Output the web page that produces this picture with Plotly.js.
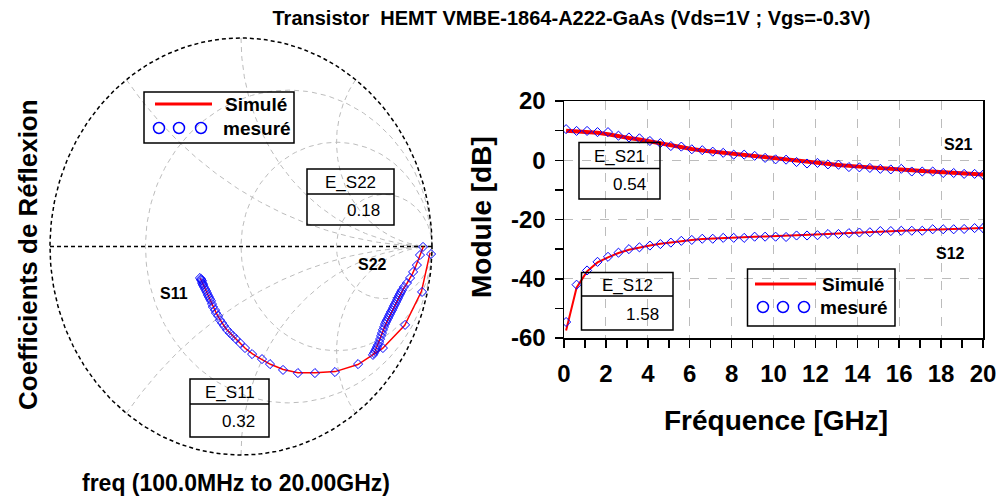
<!DOCTYPE html>
<html><head><meta charset="utf-8">
<script src="https://cdn.plot.ly/plotly-3.0.1.min.js"></script>
<style>html,body{margin:0;padding:0;background:#fff;}#chart{width:1005px;height:499px;}</style>
</head><body><div id="chart"></div>
<script>
// ---------- DATA ----------
const freqGHz = [0.1,0.6,1.1,1.6,2.1,2.6,3.1,3.6,4.1,4.6,5.1,5.6,6.1,6.6,7.1,7.6,8.1,8.6,9.1,9.6,10.1,10.6,11.1,11.6,12.1,12.6,13.1,13.6,14.1,14.6,15.1,15.6,16.1,16.6,17.1,17.6,18.1,18.6,19.1,19.6,20.0];
const s21Mesure = [10.5,9.9,9.9,9.5,9.5,8.3,7.7,7.4,6.5,5.8,4.8,4.6,3.7,3.4,2.9,2.5,1.9,1.9,1.5,0.8,0.3,0.2,-0.6,-1.1,-0.9,-1.4,-1.5,-2.3,-2.4,-2.6,-2.9,-3.1,-2.9,-3.8,-3.8,-3.8,-4.3,-4.3,-4.6,-4.6,-4.9];
const s21Simule = [10.0,9.8,9.6,9.3,8.8,8.0,7.5,7.0,6.3,5.6,5.0,4.4,3.8,3.3,2.9,2.5,2.1,1.7,1.3,0.9,0.5,0.1,-0.3,-0.7,-1.0,-1.3,-1.6,-1.9,-2.2,-2.4,-2.7,-2.9,-3.1,-3.4,-3.6,-3.8,-4.0,-4.2,-4.4,-4.6,-4.8];
const s12Mesure = [-54.6,-42.0,-37.2,-34.3,-32.6,-31.2,-30.0,-29.4,-28.8,-28.3,-27.8,-27.2,-26.9,-26.5,-26.5,-26.2,-26.2,-26.2,-25.8,-25.8,-25.8,-25.9,-25.4,-25.4,-25.3,-24.9,-24.9,-24.6,-24.4,-24.3,-23.9,-23.9,-23.8,-23.8,-23.8,-23.3,-23.3,-23.3,-23.2,-22.9,-22.9];
const s12Simule = [-57.5,-43.0,-37.5,-34.5,-32.8,-31.3,-30.2,-29.4,-28.8,-28.2,-27.7,-27.3,-26.9,-26.6,-26.4,-26.2,-26.1,-25.9,-25.8,-25.7,-25.6,-25.5,-25.3,-25.2,-25.0,-24.9,-24.7,-24.6,-24.4,-24.3,-24.1,-24.0,-23.8,-23.7,-23.6,-23.5,-23.3,-23.2,-23.1,-23.0,-22.9];

// Smith chart: reflection coefficients (real, imaginary)
const s11MesRe = [0.995,0.948,0.859,0.743,0.613,0.492,0.387,0.298,0.220,0.152,0.110,0.058,0.021,-0.005,-0.026,-0.042,-0.058,-0.073,-0.089,-0.099,-0.110,-0.120,-0.131,-0.136,-0.147,-0.152,-0.157,-0.162,-0.168,-0.173,-0.178,-0.183,-0.188,-0.194,-0.199,-0.199,-0.204,-0.204,-0.209,-0.209,-0.215];
const s11MesIm = [-0.036,-0.218,-0.376,-0.487,-0.564,-0.602,-0.607,-0.607,-0.592,-0.564,-0.540,-0.516,-0.487,-0.463,-0.444,-0.429,-0.415,-0.400,-0.381,-0.367,-0.353,-0.333,-0.319,-0.305,-0.290,-0.276,-0.261,-0.252,-0.242,-0.233,-0.223,-0.213,-0.204,-0.194,-0.185,-0.180,-0.175,-0.165,-0.161,-0.156,-0.151];
const s11SimRe = [0.990,0.945,0.857,0.741,0.612,0.493,0.388,0.298,0.221,0.154,0.108,0.060,0.022,-0.004,-0.025,-0.043,-0.058,-0.074,-0.088,-0.100,-0.110,-0.121,-0.130,-0.137,-0.146,-0.152,-0.158,-0.163,-0.168,-0.173,-0.178,-0.183,-0.188,-0.193,-0.197,-0.200,-0.203,-0.205,-0.208,-0.210,-0.213];
const s11SimIm = [-0.030,-0.215,-0.378,-0.489,-0.566,-0.600,-0.606,-0.605,-0.590,-0.565,-0.541,-0.515,-0.488,-0.464,-0.445,-0.430,-0.414,-0.399,-0.382,-0.366,-0.352,-0.334,-0.318,-0.304,-0.289,-0.276,-0.262,-0.252,-0.242,-0.232,-0.222,-0.213,-0.203,-0.194,-0.186,-0.180,-0.174,-0.167,-0.161,-0.156,-0.152];
const s22MesRe = [0.953,0.937,0.921,0.901,0.885,0.869,0.853,0.843,0.838,0.832,0.827,0.822,0.817,0.812,0.806,0.801,0.796,0.791,0.785,0.780,0.775,0.770,0.764,0.759,0.754,0.749,0.743,0.738,0.733,0.728,0.723,0.717,0.712,0.707,0.702,0.696,0.691];
const s22MesIm = [-0.002,-0.041,-0.089,-0.122,-0.151,-0.175,-0.194,-0.209,-0.218,-0.228,-0.237,-0.247,-0.256,-0.266,-0.276,-0.285,-0.295,-0.305,-0.314,-0.324,-0.333,-0.343,-0.353,-0.362,-0.372,-0.386,-0.400,-0.415,-0.429,-0.444,-0.458,-0.472,-0.482,-0.492,-0.501,-0.511,-0.520];
const s22SimRe = [0.955,0.935,0.915,0.898,0.882,0.866,0.850,0.835,0.822,0.810,0.797,0.784,0.771,0.759,0.748,0.737,0.726,0.715,0.703,0.692];
const s22SimIm = [0.000,-0.050,-0.095,-0.130,-0.158,-0.182,-0.204,-0.228,-0.252,-0.275,-0.300,-0.323,-0.346,-0.370,-0.395,-0.422,-0.449,-0.476,-0.500,-0.520];

const xTickStep = 2;
const yTickVals = [-60,-40,-20,0,20];
const yTickText = ['-60','-40','-20','0','20'];
const resistanceGrid = [1/3, 1, 3];
const reactanceGrid = [0.5, 1, 2];
const errorLabels = ['E_S22','E_S11','E_S21','E_S12'];
const errorValues = ['0.18','0.32','0.54','1.58'];
const curveLabels = ['S11','S22','S21','S12'];

// ---------- LAYOUT GEOMETRY ----------
const W = 1005, H = 499;
const PX = v => v / W, PY = v => 1 - v / H;
const FONT = 'Liberation Sans, Arial, sans-serif';
const smith = {cx: 241, rx: 191, cy: 246.5, ry: 208.5, pad: 1.1};
const RED = '#ff0000', BLUE = '#0000ff', GRID = '#bcbcbc';

// Smith grid (computed geometry of the chart background)
function rCircle(r) {
  const c = r / (1 + r), R = 1 / (1 + r), xs = [], ys = [];
  for (let i = 0; i <= 240; i++) { const t = i / 240 * 2 * Math.PI; xs.push(c + R * Math.cos(t)); ys.push(R * Math.sin(t)); }
  return [xs, ys];
}
function xArc(x) {
  const xs = [], ys = [];
  for (let i = 0; i <= 200; i++) {
    const r = Math.tan(i / 200 * 0.997 * Math.PI / 2);
    const d = (r + 1) * (r + 1) + x * x;
    xs.push((r * r + x * x - 1) / d); ys.push(2 * x / d);
  }
  return [xs, ys];
}
const traces = [];
const gridLine = {color: GRID, width: 1, dash: '5px,4px'};
resistanceGrid.forEach(r => { const [a, b] = rCircle(r); traces.push({x: a, y: b, xaxis: 'x', yaxis: 'y', mode: 'lines', line: gridLine, hoverinfo: 'skip'}); });
reactanceGrid.forEach(x => {
  [x, -x].forEach(v => { const [a, b] = xArc(v); traces.push({x: a, y: b, xaxis: 'x', yaxis: 'y', mode: 'lines', line: gridLine, hoverinfo: 'skip'}); });
});
{ const [a, b] = rCircle(0); traces.push({x: a, y: b, xaxis: 'x', yaxis: 'y', mode: 'lines', line: {color: '#000', width: 1.5, dash: '4px,3px'}, hoverinfo: 'skip'}); }
traces.push({x: [-1, 1], y: [0, 0], xaxis: 'x', yaxis: 'y', mode: 'lines', line: {color: '#000', width: 1.5, dash: '4px,3px'}, hoverinfo: 'skip'});

const mk = {symbol: 'diamond-open', size: 7, color: BLUE, line: {width: 1, color: BLUE}};
// Smith data
traces.push({x: s11SimRe, y: s11SimIm, xaxis: 'x', yaxis: 'y', mode: 'lines', line: {color: RED, width: 1.5}, name: 'Simulé'});
traces.push({x: s22SimRe, y: s22SimIm, xaxis: 'x', yaxis: 'y', mode: 'lines', line: {color: RED, width: 1.5}, name: 'Simulé'});
traces.push({x: s11MesRe, y: s11MesIm, xaxis: 'x', yaxis: 'y', mode: 'markers', marker: mk, name: 'mesuré'});
traces.push({x: s22MesRe, y: s22MesIm, xaxis: 'x', yaxis: 'y', mode: 'markers', marker: mk, name: 'mesuré'});
// Module data
traces.push({x: freqGHz, y: s21Simule, xaxis: 'x2', yaxis: 'y2', mode: 'lines', line: {color: RED, width: 4}, name: 'Simulé'});
traces.push({x: freqGHz, y: s12Simule, xaxis: 'x2', yaxis: 'y2', mode: 'lines', line: {color: RED, width: 2}, name: 'Simulé'});
traces.push({x: freqGHz, y: s21Mesure, xaxis: 'x2', yaxis: 'y2', mode: 'markers', marker: mk, name: 'mesuré'});
traces.push({x: freqGHz, y: s12Mesure, xaxis: 'x2', yaxis: 'y2', mode: 'markers', marker: mk, name: 'mesuré'});

// ---------- ANNOTATIONS & SHAPES ----------
const ann = [], shapes = [];
function txt(text, x, y, size, opts = {}) {
  ann.push(Object.assign({text, x: PX(x), y: PY(y), xref: 'paper', yref: 'paper', showarrow: false,
    xanchor: 'center', yanchor: 'middle', font: {family: FONT, size, color: '#000', weight: 'bold'}}, opts));
}
function rect(x0, y0, x1, y1) {
  shapes.push({type: 'rect', xref: 'paper', yref: 'paper', x0: PX(x0), x1: PX(x1), y0: PY(y1), y1: PY(y0), line: {color: '#000', width: 1.5}});
}
function hline(x0, x1, y, color, width) {
  shapes.push({type: 'line', xref: 'paper', yref: 'paper', x0: PX(x0), x1: PX(x1), y0: PY(y), y1: PY(y), line: {color, width}});
}
function circ(cx, cy, r) {
  shapes.push({type: 'circle', xref: 'paper', yref: 'paper', x0: PX(cx - r), x1: PX(cx + r), y0: PY(cy + r), y1: PY(cy - r), line: {color: BLUE, width: 1.5}});
}
// error boxes
const boxPos = [[307,169,394,225,194],[190,379,269,437,404],[579,142.5,660,199,168.5],[581.5,272.6,673,330,296]];
boxPos.forEach((b, i) => {
  rect(b[0], b[1], b[2], b[3]); hline(b[0], b[2], b[4], '#000', 1.5);
  txt(errorLabels[i], (b[0] + b[2]) / 2, (b[1] + b[4]) / 2 + 1, 17, {font: {family: FONT, size: 17, color: '#000'}});
  txt(errorValues[i], b[2] - 12, (b[4] + b[3]) / 2 + 1, 17, {xanchor: 'right', font: {family: FONT, size: 17, color: '#000'}});
});
// legends
[[144,92,294,143,155,212,104,159,179,201,128,223],[747.5,269,895,326,755,816,284,763,783,804,307,820]].forEach(l => {
  rect(l[0], l[1], l[2], l[3]);
  hline(l[4], l[5], l[6], RED, 3);
  circ(l[7], l[10], 5.5); circ(l[8], l[10], 5.5); circ(l[9], l[10], 5.5);
  txt('Simulé', l[11], l[6], 19, {xanchor: 'left'});
  txt('mesuré', l[11] - 2, l[10], 19, {xanchor: 'left'});
});
// curve labels
const labelPos = [[174,293],[372,264],[958,144],[950,254]];
curveLabels.forEach((t, i) => txt(t, labelPos[i][0], labelPos[i][1], 16));
// axis titles
txt('Coefficients de Réflexion', 28, 255, 26, {textangle: -90});
txt('freq (100.0MHz to 20.00GHz)', 235.5, 483, 23);
txt('Module [dB]', 481, 217, 28, {textangle: -90});
txt('Fréquence [GHz]', 776, 420, 28);

const axFont = {family: FONT, size: 24, color: '#000', weight: 'bold'};
const layout = {
  width: W, height: H, margin: {l: 0, r: 0, t: 0, b: 0},
  paper_bgcolor: '#fff', plot_bgcolor: 'rgba(0,0,0,0)', showlegend: false,
  title: {text: 'Transistor  HEMT VMBE-1864-A222-GaAs (Vds=1V ; Vgs=-0.3V)', x: PX(571.5), y: PY(18), xref: 'paper', yref: 'paper',
    xanchor: 'center', yanchor: 'middle', font: {family: FONT, size: 20, color: '#000', weight: 'bold'}},
  xaxis: {domain: [PX(smith.cx - smith.pad * smith.rx), PX(smith.cx + smith.pad * smith.rx)], range: [-smith.pad, smith.pad], visible: false, fixedrange: true},
  yaxis: {domain: [PY(smith.cy + smith.pad * smith.ry), PY(smith.cy - smith.pad * smith.ry)], range: [-smith.pad, smith.pad], visible: false, fixedrange: true},
  xaxis2: {domain: [PX(564), PX(983)], anchor: 'y2', range: [0, 20], tickmode: 'linear', tick0: 0, dtick: xTickStep,
    ticks: 'outside', ticklen: 8, tickwidth: 1.5, tickcolor: '#000', showline: true, linecolor: '#000', linewidth: 1.5, mirror: true,
    showgrid: true, gridcolor: GRID, griddash: 'dash', gridwidth: 1, zeroline: false, tickfont: axFont, ticklabelstandoff: 6,
    minor: {tickmode: 'linear', tick0: 0, dtick: 1, ticks: 'outside', ticklen: 8, tickwidth: 1.5, tickcolor: '#000', showgrid: false}},
  yaxis2: {domain: [PY(338), PY(101)], anchor: 'x2', range: [-60, 20], tickmode: 'array', tickvals: yTickVals, ticktext: yTickText,
    ticks: 'outside', ticklen: 8, tickwidth: 1.5, tickcolor: '#000', showline: true, linecolor: '#000', linewidth: 1.5, mirror: true,
    showgrid: true, gridcolor: GRID, griddash: 'dash', gridwidth: 1, zeroline: false, tickfont: axFont, ticklabelstandoff: 4,
    minor: {tickmode: 'linear', tick0: 0, dtick: 10, ticks: 'outside', ticklen: 8, tickwidth: 1.5, tickcolor: '#000', showgrid: false}},
  annotations: ann, shapes: shapes
};
Plotly.newPlot('chart', traces, layout, {staticPlot: true, displayModeBar: false});
</script></body></html>
